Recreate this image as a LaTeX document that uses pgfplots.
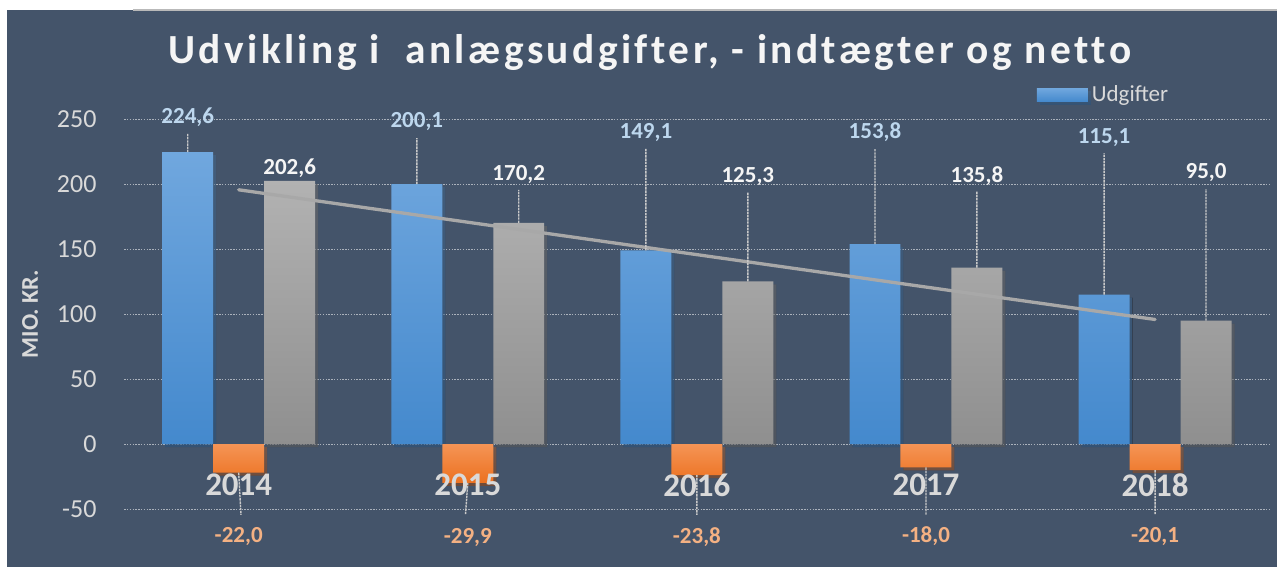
\documentclass[border=0pt]{standalone}
\usepackage{fontspec}
\setmainfont{Carlito}
\usepackage{pgfplots}
\pgfplotsset{compat=1.18}
\usetikzlibrary{shadows}
\definecolor{bg}{RGB}{68,84,106}
\definecolor{blueT}{RGB}{112,167,222}
\definecolor{blueB}{RGB}{68,137,205}
\definecolor{orT}{RGB}{245,148,85}
\definecolor{orB}{RGB}{236,113,32}
\definecolor{grT}{RGB}{178,178,178}
\definecolor{grB}{RGB}{143,143,143}
\definecolor{lblue}{RGB}{189,215,238}
\definecolor{lorange}{RGB}{244,177,131}
\definecolor{ltext}{RGB}{217,217,217}
\definecolor{wtext}{RGB}{245,245,245}
\definecolor{trend}{RGB}{168,168,168}
\definecolor{leader}{RGB}{200,200,200}
\begin{document}
\begin{tikzpicture}
\fill[white] (-62.1pt,-28.85pt) rectangle (576.9pt,254.65pt);
\fill[bg] (-58.45pt,-28.85pt) rectangle (576.9pt,249.65pt);
\draw[gray!55, line width=0.6pt] (4.4pt,249.65pt) -- (576.9pt,249.65pt);
\begin{axis}[
  scale only axis,
  width=573pt, height=195pt,
  xmin=-0.5, xmax=4.5, ymin=-50, ymax=250,
  clip=false,
  axis line style={draw=none},
  major tick length=0pt,
  xtick=\empty,
  ytick={-50,0,50,100,150,200,250},
  yticklabel style={font=\fontsize{13}{15}\selectfont, text=ltext, xshift=-10.3pt},
  /pgf/number format/assume math mode=true,
  ymajorgrids,
  grid style={color=white!55!bg, dash pattern=on 0.7pt off 0.7pt, line width=0.5pt},
  ylabel={MIO. KR.},
  ylabel style={at={(axis description cs:-0.0822,0.5)}, anchor=center, font=\fontsize{12}{14}\selectfont\bfseries, text=ltext},
  title={\addfontfeature{LetterSpace=8.3,Ligatures=NoCommon}Udvikling i\ \ anlægsudgifter, - indtægter og netto},
  every axis title/.style={at={(axis description cs:0.4588,1.1436)}, anchor=base, font=\fontsize{20.7}{24}\selectfont\bfseries, text=wtext, inner sep=0pt},
  legend style={at={(axis description cs:0.7965,1.0623)}, anchor=west, draw=none, fill=none, inner sep=0pt, font=\fontsize{11.5}{13}\selectfont, text=ltext},
  legend image code/.code={\shade[top color=blueT, bottom color=blueB] (0pt,-3.3pt) rectangle (25.5pt,3.3pt);},
  barshadow/.style={drop shadow={opacity=0.35, shadow xshift=1.5pt, shadow yshift=-1.5pt, fill=black}},
]
% Udgifter
\addplot[ybar, bar width=0.2225, bar shift=-0.2225, draw=none, top color=blueT, bottom color=blueB, barshadow]
  coordinates {(0,224.6) (1,200.1) (2,149.1) (3,153.8) (4,115.1)};
\addlegendentry{Udgifter}
% Indtaegter
\addplot[forget plot, ybar, bar width=0.2225, bar shift=0, draw=none, top color=orT, bottom color=orB, barshadow]
  coordinates {(0,-22.0) (1,-29.9) (2,-23.8) (3,-18.0) (4,-20.1)};
% Netto
\addplot[forget plot, ybar, bar width=0.2225, bar shift=0.2225, draw=none, top color=grT, bottom color=grB, barshadow]
  coordinates {(0,202.6) (1,170.2) (2,125.3) (3,135.8) (4,95.0)};
% Trend line (linear trend of Netto)
\addplot[forget plot, color=trend, line width=1.65pt, line cap=round, mark=none]
  coordinates {(0,195.7) (4,95.9)};
% Year labels
\addplot[forget plot, only marks, mark=none, nodes near coords, point meta=explicit symbolic,
  every node near coord/.style={anchor=center, text=ltext, font=\fontsize{16.5}{18}\selectfont\bfseries}]
  coordinates {(0,-31.7)[2014] (1,-31.7)[2015] (2,-31.7)[2016] (3,-31.7)[2017] (4,-31.7)[2018]};
% Leader lines
\addplot[forget plot, color=leader, line width=0.7pt, dash pattern=on 1.2pt off 0.4pt, mark=none, unbounded coords=jump]
  coordinates {
  (-0.2225,224.6) (-0.2225,239.2) (-0.2225,nan)
  (0.7775,200.1) (0.7775,235.4) (0.7775,nan)
  (1.7775,149.1) (1.7775,227.2) (1.7775,nan)
  (2.7775,153.8) (2.7775,227.2) (2.7775,nan)
  (3.7775,115.1) (3.7775,223.8) (3.7775,nan)
  (1.2225,170.2) (1.2225,195.6) (1.2225,nan)
  (2.2225,125.3) (2.2225,193.5) (2.2225,nan)
  (3.2225,135.8) (3.2225,194.8) (3.2225,nan)
  (4.2225,95.0) (4.2225,196.2) (4.2225,nan)
  (0,-22.0) (0.01,-54.4) (0.01,nan)
  (1,-29.9) (0.99,-54.4) (0.99,nan)
  (2,-23.8) (2,-54.4) (2,nan)
  (3,-18.0) (3,-54.4) (3,nan)
  (4,-20.1) (4,-54.4)
  };
% Data labels Udgifter
\addplot[forget plot, only marks, mark=none, nodes near coords, point meta=explicit symbolic,
  every node near coord/.style={anchor=center, text=lblue, font=\fontsize{11.5}{13}\selectfont\bfseries}]
  coordinates {(-0.2225,251.3)[224,6] (0.7775,247.9)[200,1] (1.7775,239.5)[149,1] (2.7775,239.8)[153,8] (3.7775,236.0)[115,1]};
% Data labels Netto
\addplot[forget plot, only marks, mark=none, nodes near coords, point meta=explicit symbolic,
  every node near coord/.style={anchor=center, text=wtext, font=\fontsize{11.5}{13}\selectfont\bfseries}]
  coordinates {(0.2225,212.3)[202,6] (1.2225,207.7)[170,2] (2.2225,205.9)[125,3] (3.2225,206.4)[135,8] (4.2225,209.0)[95,0]};
% Data labels Indtaegter
\addplot[forget plot, only marks, mark=none, nodes near coords, point meta=explicit symbolic,
  every node near coord/.style={anchor=center, text=lorange, font=\fontsize{11.5}{13}\selectfont\bfseries}]
  coordinates {(0,-70.8)[-22,0] (1,-72.0)[-29,9] (2,-71.3)[-23,8] (3,-70.8)[-18,0] (4,-71.3)[-20,1]};
\end{axis}
\end{tikzpicture}
\end{document}
